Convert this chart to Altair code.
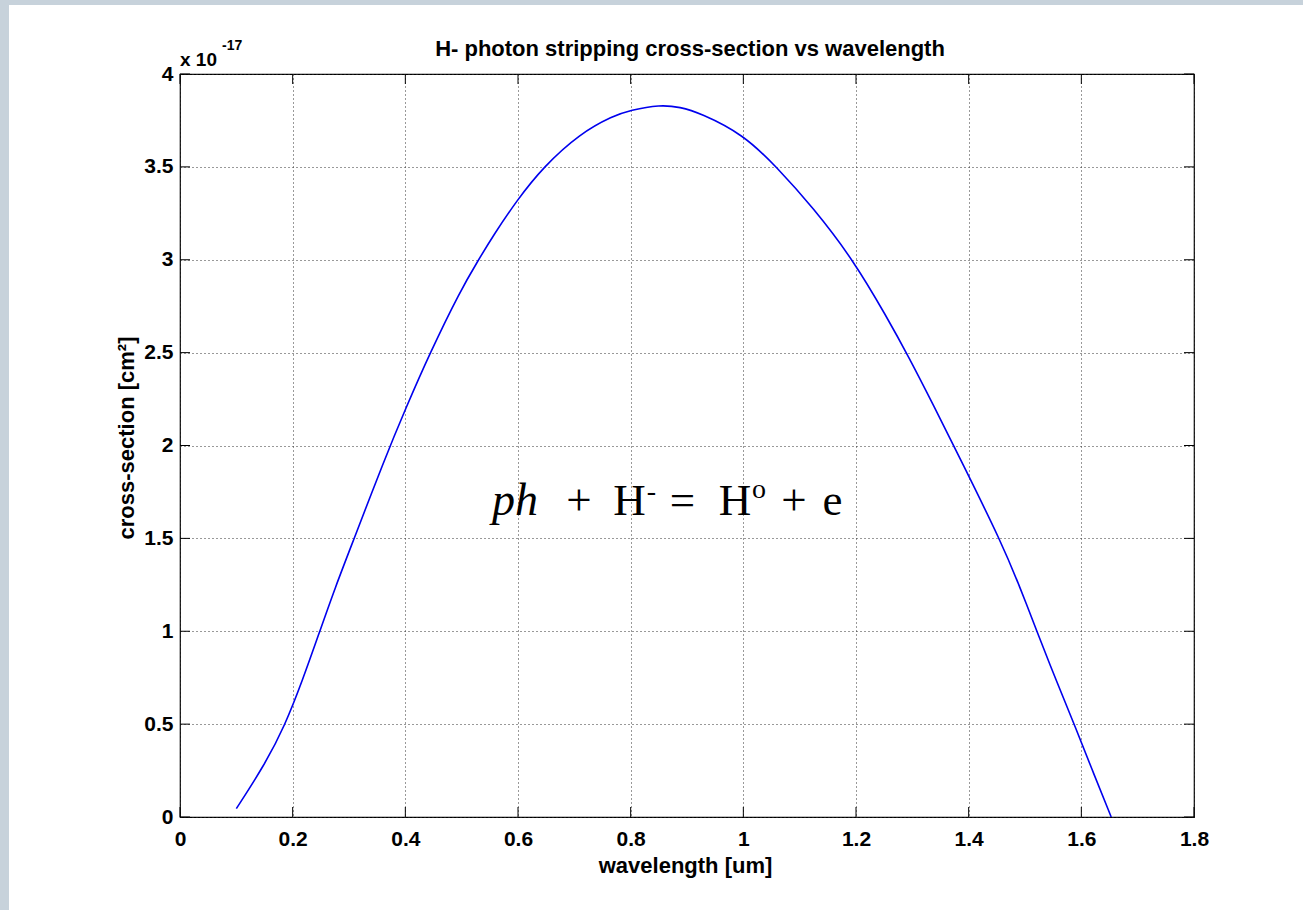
import altair as alt
import pandas as pd

# ---- data ----
wavelength = [0.100, 0.150, 0.186, 0.218, 0.247, 0.276, 0.308, 0.361, 0.402, 0.444,
              0.497, 0.530, 0.556, 0.598, 0.645, 0.710, 0.769, 0.799, 0.852, 0.888,
              0.923, 1.000, 1.059, 1.124, 1.195, 1.255, 1.293, 1.337, 1.388, 1.458,
              1.492, 1.521, 1.556, 1.590, 1.621, 1.653]
cross_section = [0.045, 0.28, 0.49, 0.74, 0.99, 1.24, 1.49, 1.91, 2.21, 2.50,
                 2.83, 3.00, 3.13, 3.32, 3.50, 3.68, 3.775, 3.805, 3.835, 3.822,
                 3.79, 3.675, 3.50, 3.28, 3.00, 2.69, 2.48, 2.22, 1.91, 1.48,
                 1.23, 1.00, 0.73, 0.48, 0.24, 0.00]
x_ticks = [0, 0.2, 0.4, 0.6, 0.8, 1.0, 1.2, 1.4, 1.6, 1.8]
y_ticks = [0, 0.5, 1.0, 1.5, 2.0, 2.5, 3.0, 3.5, 4.0]

title_text = "H- photon stripping cross-section vs wavelength"
x_title = "wavelength [um]"
y_title = "cross-section [cm²]"
exponent_base = "x 10"
exponent_power = "-17"
# reaction annotation pieces: text, kind
reaction_text = ["ph", "+", "H", "-", "=", "H", "o", "+", "e"]
reaction_kind = ["italic", "main", "main", "sup", "main", "main", "sup", "main", "main"]

# ---- layout (pixels) ----
W, H = 1014, 743
PAD = {"left": 180, "top": 74, "right": 109, "bottom": 93}
FONT = "Liberation Sans"
SERIF = "Liberation Serif"
BLUE = "#0000ee"
STRIP = "#c7d2db"

curve_df = pd.DataFrame({"x": wavelength, "y": cross_section})
xt_df = pd.DataFrame({"x": x_ticks})
yt_df = pd.DataFrame({"y": y_ticks})
one = pd.DataFrame({"a": [0]})

xs = alt.Scale(domain=[0, 1.8], nice=False, zero=False)
ys = alt.Scale(domain=[0, 4], nice=False, zero=False)

x_axis = alt.Axis(values=x_ticks, format=".1~f", title=x_title, grid=True,
                  gridDash=[1, 3], gridColor="#333333", gridOpacity=1, gridWidth=1,
                  ticks=False, tickSize=0, domain=False,
                  labelFont=FONT, labelFontSize=21, labelFontWeight="bold", labelColor="black",
                  labelPadding=11, labelBaseline="top", labelFlush=False,
                  titleFont=FONT, titleFontSize=22, titleFontWeight="bold", titleColor="black",
                  titleX=W / 2 - 2, titleY=55, titleBaseline="alphabetic", titleAlign="center")
y_axis = alt.Axis(values=y_ticks, format=".1~f", title=y_title, grid=True,
                  gridDash=[1, 3], gridColor="#333333", gridOpacity=1, gridWidth=1,
                  ticks=False, tickSize=0, domain=False,
                  labelFont=FONT, labelFontSize=21, labelFontWeight="bold", labelColor="black",
                  labelPadding=7, labelAlign="right", labelBaseline="middle", labelFlush=False,
                  titleFont=FONT, titleFontSize=22, titleFontWeight="bold", titleColor="black",
                  titleX=-47, titleY=H / 2 - 8, titleAngle=270, titleBaseline="alphabetic",
                  titleAlign="center")

X = alt.X("x:Q", scale=xs, axis=x_axis)
Y = alt.Y("y:Q", scale=ys, axis=y_axis)

# gray page strips (top and left), as in the reference
strip_top = alt.Chart(one).mark_rect(color=STRIP).encode(
    x=alt.value(-PAD["left"]), x2=alt.value(W + PAD["right"]),
    y=alt.value(-PAD["top"]), y2=alt.value(-PAD["top"] + 5))
strip_left = alt.Chart(one).mark_rect(color=STRIP).encode(
    x=alt.value(-PAD["left"]), x2=alt.value(-PAD["left"] + 9),
    y=alt.value(-PAD["top"]), y2=alt.value(H + PAD["bottom"]))

curve = alt.Chart(curve_df).mark_line(color=BLUE, strokeWidth=1.6, interpolate="basis").encode(
    x=X, y=Y)

TL = 10
tick_bottom = alt.Chart(xt_df).mark_rule(color="black", strokeWidth=1).encode(
    x=X, y=alt.value(H), y2=alt.value(H - TL))
tick_top = alt.Chart(xt_df).mark_rule(color="black", strokeWidth=1).encode(
    x=X, y=alt.value(0), y2=alt.value(TL))
tick_left = alt.Chart(yt_df).mark_rule(color="black", strokeWidth=1).encode(
    y=Y, x=alt.value(0), x2=alt.value(TL))
tick_right = alt.Chart(yt_df).mark_rule(color="black", strokeWidth=1).encode(
    y=Y, x=alt.value(W), x2=alt.value(W - TL))

title_mark = alt.Chart(one).mark_text(
    text=title_text, font=FONT, fontSize=22, fontWeight="bold", color="black",
    align="center", baseline="alphabetic").encode(x=alt.value(W / 2 + 3), y=alt.value(-18))
exp_base = alt.Chart(one).mark_text(
    text=exponent_base, font=FONT, fontSize=19, fontWeight="bold", color="black",
    align="left", baseline="alphabetic").encode(x=alt.value(0), y=alt.value(-8))
exp_pow = alt.Chart(one).mark_text(
    text=exponent_power, font=FONT, fontSize=14, fontWeight="bold", color="black",
    align="left", baseline="alphabetic").encode(x=alt.value(42), y=alt.value(-24))

# reaction annotation, glyph centres in plot pixels
rx = [335, 399, 449.5, 471.5, 502.5, 555, 579, 614, 652.5]
ry = [441, 441, 441, 426, 441, 441, 424, 441, 441]
rdf = pd.DataFrame({"t": reaction_text, "k": reaction_kind, "px": rx, "py": ry})
react_it = alt.Chart(rdf).transform_filter("datum.k == 'italic'").mark_text(
    font=SERIF, fontSize=46, fontStyle="italic", color="black", align="center",
    baseline="alphabetic").encode(x=alt.X("px:Q", scale=None), y=alt.Y("py:Q", scale=None),
                                  text="t:N")
react_main = alt.Chart(rdf).transform_filter("datum.k == 'main'").mark_text(
    font=SERIF, fontSize=45, color="black", align="center",
    baseline="alphabetic").encode(x=alt.X("px:Q", scale=None), y=alt.Y("py:Q", scale=None),
                                  text="t:N")
react_sup = alt.Chart(rdf).transform_filter("datum.k == 'sup'").mark_text(
    font=SERIF, fontSize=28, color="black", align="center",
    baseline="alphabetic").encode(x=alt.X("px:Q", scale=None), y=alt.Y("py:Q", scale=None),
                                  text="t:N")

chart = alt.layer(
    strip_top, strip_left, curve, tick_bottom, tick_top, tick_left, tick_right,
    title_mark, exp_base, exp_pow, react_it, react_main, react_sup
).properties(
    width=W, height=H, background="white", padding=PAD,
    autosize=alt.AutoSizeParams(type="none")
).configure_view(stroke="black", strokeWidth=1.2)

chart.save("out.html", embed_options={"renderer": "svg", "actions": False})
